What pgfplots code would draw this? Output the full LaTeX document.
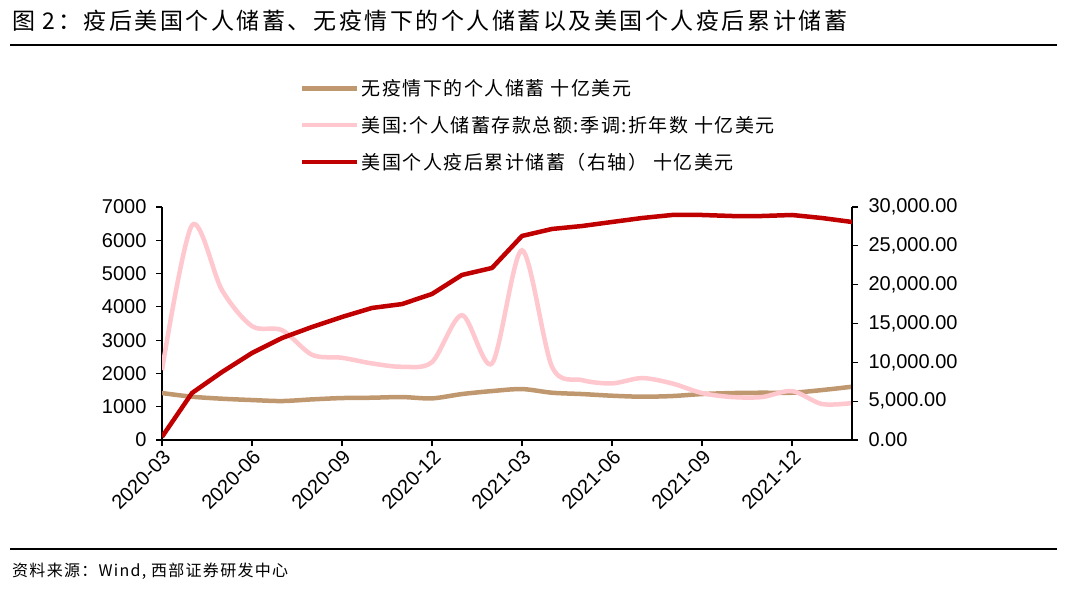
\documentclass[border=0pt]{standalone}
\usepackage{fontspec}
\setmainfont{Liberation Sans}
\newfontfamily\cjk{Noto Sans CJK SC}
\newfontfamily\cjkt[LetterSpace=11]{Noto Sans CJK SC}
\newfontfamily\cjkl[LetterSpace=8]{Noto Sans CJK SC}
\usepackage{pgfplots}
\pgfplotsset{compat=1.18}
\definecolor{tanc}{RGB}{191,152,112}
\definecolor{pinkc}{RGB}{255,199,206}
\definecolor{redc}{RGB}{192,0,0}

\pgfplotstableread{
idx tan pink
0 1410 2100
1 1300 6450
2 1240 4500
3 1200 3420
4 1170 3300
5 1220 2560
6 1260 2470
7 1270 2300
8 1290 2200
9 1250 2340
10 1380 3750
11 1470 2300
12 1530 5700
13 1420 2200
14 1380 1800
15 1330 1700
16 1300 1860
17 1320 1700
18 1380 1410
19 1410 1290
20 1420 1290
21 1420 1470
22 1500 1080
23 1600 1110
}\lefttab

\pgfplotstableread{
idx cum
0 400
1 6050
2 8750
3 11200
4 13130
5 14550
6 15840
7 17000
8 17500
9 18800
10 21250
11 22150
12 26270
13 27170
14 27550
15 28070
16 28580
17 28970
18 28970
19 28840
20 28840
21 28970
22 28580
23 28070
}\righttab

\begin{document}
\begin{tikzpicture}[x=1pt,y=1pt]
\path (0,0) rectangle (1080,593);
\node[anchor=base west, inner sep=0] at (12,563) {\cjkt\fontsize{23}{26}\selectfont 图 2：疫后美国个人储蓄、无疫情下的个人储蓄以及美国个人疫后累计储蓄};
\draw[line width=1.5pt] (10,548) -- (1057,548);
\draw[line width=1.2pt] (10,44) -- (1057,44);
\node[anchor=base west, inner sep=0] at (12,16) {\cjkl\fontsize{16}{18}\selectfont 资料来源：Wind, 西部证券研发中心};

\pgfplotsset{
  every axis/.append style={
    scale only axis, width=690pt, height=233pt,
    at={(162pt,153pt)}, anchor=south west,
    xmin=0, xmax=23,
    tick align=outside, major tick length=6pt,
    every tick/.style={black, line width=1.2pt},
    axis line style={line width=1.2pt},
    tick label style={font=\fontsize{20}{22}\selectfont},
    /pgf/number format/assume math mode=true,
  },
}

\begin{axis}[
  axis y line*=left, axis x line*=bottom,
  ymin=0, ymax=7000,
  ytick={0,1000,...,7000},
  yticklabel style={/pgf/number format/1000 sep={}, xshift=-6pt},
  xtick={0,3,...,21},
  xticklabels={2020-03,2020-06,2020-09,2020-12,2021-03,2021-06,2021-09,2021-12},
  x tick label style={rotate=45, anchor=north east, inner sep=2pt},
]
\addplot[tanc, line width=4.5pt, smooth, tension=0.5] table[x=idx, y=tan] {\lefttab};
\addplot[pinkc, line width=4.5pt, smooth, tension=0.5] table[x=idx, y=pink] {\lefttab};
\end{axis}

\begin{axis}[
  axis y line*=right, axis x line=none,
  ymin=0, ymax=30000,
  ytick={0,5000,...,30000},
  scaled y ticks=false,
  yticklabel style={/pgf/number format/fixed, /pgf/number format/fixed zerofill, /pgf/number format/precision=2, /pgf/number format/1000 sep={,}, xshift=7pt},
  legend image code/.code={\draw[#1] (0pt,0pt) -- (55pt,0pt);},
  legend style={at={(0.2,1.555)}, anchor=north west, draw=none, fill=none,
    font=\cjkl\fontsize{19}{22}\selectfont, row sep=15pt, inner sep=0pt},
  legend cell align=left,
]
\addlegendimage{tanc, line width=4.5pt}
\addlegendentry{无疫情下的个人储蓄 十亿美元}
\addlegendimage{pinkc, line width=4.5pt}
\addlegendentry{美国:个人储蓄存款总额:季调:折年数 十亿美元}
\addplot[redc, line width=4.5pt, line join=round] table[x=idx, y=cum] {\righttab};
\addlegendentry{美国个人疫后累计储蓄（右轴） 十亿美元}
\end{axis}
\end{tikzpicture}
\end{document}
